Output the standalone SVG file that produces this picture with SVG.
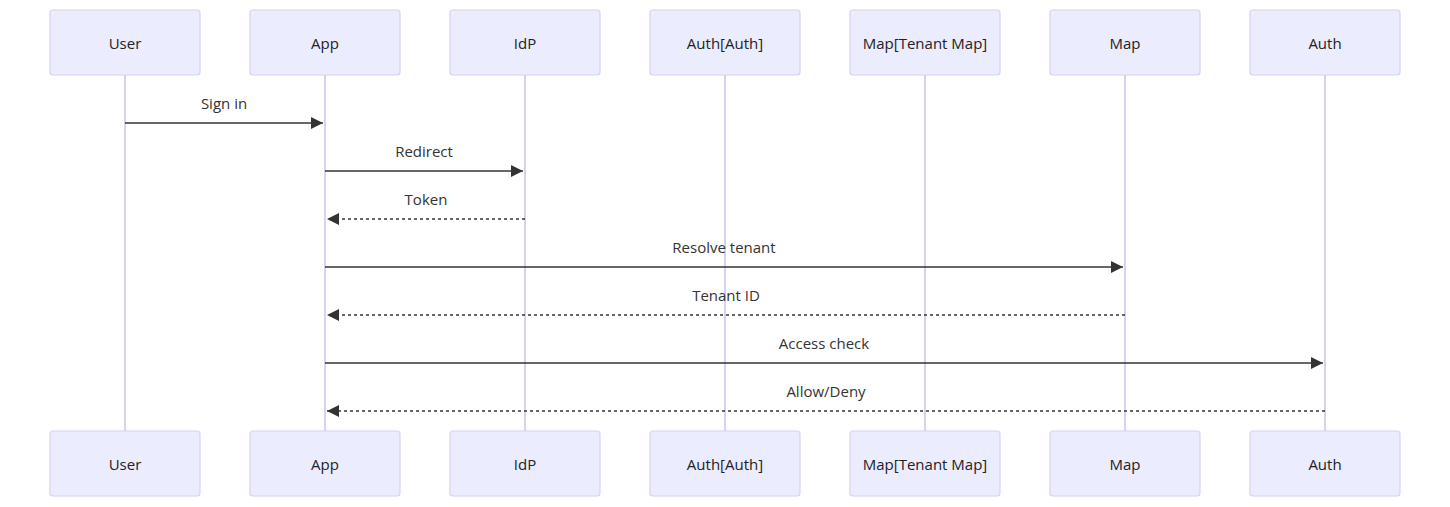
<svg xmlns="http://www.w3.org/2000/svg" width="1450" height="507" viewBox="0 0 1450 507">
<style>
.actor{fill:#ECECFF;stroke:#d8d0f3;stroke-width:1.2}
.life{stroke:#d8d0f3;stroke-width:2}
.at{font-family:"Open Sans","Liberation Sans",sans-serif;font-size:15px;fill:#222;text-anchor:middle;dominant-baseline:central}
.mt{font-family:"Open Sans","Liberation Sans",sans-serif;font-size:15px;fill:#333;text-anchor:middle}
.m{stroke:#333;stroke-width:1.5;fill:none}
.d{stroke-dasharray:3,3}
</style>
<defs>
<marker id="ah" viewBox="0 0 10 10" refX="10" refY="5" markerWidth="8" markerHeight="8" orient="auto"><path d="M0,0L10,5L0,10z" fill="#333"/></marker>
</defs>
<g id="lifelines">
<line class="life" x1="125" y1="75" x2="125" y2="431"/>
<line class="life" x1="325" y1="75" x2="325" y2="431"/>
<line class="life" x1="525" y1="75" x2="525" y2="431"/>
<line class="life" x1="725" y1="75" x2="725" y2="431"/>
<line class="life" x1="925" y1="75" x2="925" y2="431"/>
<line class="life" x1="1125" y1="75" x2="1125" y2="431"/>
<line class="life" x1="1325" y1="75" x2="1325" y2="431"/>
</g>
<g id="user"><rect class="actor" x="50" y="10" width="150" height="65" rx="3"/><text class="at" x="125" y="43">User</text><rect class="actor" x="50" y="431" width="150" height="65" rx="3"/><text class="at" x="125" y="464">User</text></g>
<g id="app"><rect class="actor" x="250" y="10" width="150" height="65" rx="3"/><text class="at" x="325" y="43">App</text><rect class="actor" x="250" y="431" width="150" height="65" rx="3"/><text class="at" x="325" y="464">App</text></g>
<g id="idp"><rect class="actor" x="450" y="10" width="150" height="65" rx="3"/><text class="at" x="525" y="43">IdP</text><rect class="actor" x="450" y="431" width="150" height="65" rx="3"/><text class="at" x="525" y="464">IdP</text></g>
<g id="authauth"><rect class="actor" x="650" y="10" width="150" height="65" rx="3"/><text class="at" x="725" y="43">Auth[Auth]</text><rect class="actor" x="650" y="431" width="150" height="65" rx="3"/><text class="at" x="725" y="464">Auth[Auth]</text></g>
<g id="maptenant"><rect class="actor" x="850" y="10" width="150" height="65" rx="3"/><text class="at" x="925" y="43">Map[Tenant Map]</text><rect class="actor" x="850" y="431" width="150" height="65" rx="3"/><text class="at" x="925" y="464">Map[Tenant Map]</text></g>
<g id="map"><rect class="actor" x="1050" y="10" width="150" height="65" rx="3"/><text class="at" x="1125" y="43">Map</text><rect class="actor" x="1050" y="431" width="150" height="65" rx="3"/><text class="at" x="1125" y="464">Map</text></g>
<g id="auth"><rect class="actor" x="1250" y="10" width="150" height="65" rx="3"/><text class="at" x="1325" y="43">Auth</text><rect class="actor" x="1250" y="431" width="150" height="65" rx="3"/><text class="at" x="1325" y="464">Auth</text></g>
<g id="connectors">
<line class="m" x1="125" y1="123" x2="323" y2="123" marker-end="url(#ah)"/><text class="mt" x="224" y="109">Sign in</text>
<line class="m" x1="325" y1="171" x2="523" y2="171" marker-end="url(#ah)"/><text class="mt" x="424" y="157">Redirect</text>
<line class="m d" x1="525" y1="219" x2="327" y2="219" marker-end="url(#ah)"/><text class="mt" x="426" y="205">Token</text>
<line class="m" x1="325" y1="267" x2="1123" y2="267" marker-end="url(#ah)"/><text class="mt" x="724" y="253">Resolve tenant</text>
<line class="m d" x1="1125" y1="315" x2="327" y2="315" marker-end="url(#ah)"/><text class="mt" x="726" y="301">Tenant ID</text>
<line class="m" x1="325" y1="363" x2="1323" y2="363" marker-end="url(#ah)"/><text class="mt" x="824" y="349">Access check</text>
<line class="m d" x1="1325" y1="411" x2="327" y2="411" marker-end="url(#ah)"/><text class="mt" x="826" y="397">Allow/Deny</text>
</g>
</svg>
